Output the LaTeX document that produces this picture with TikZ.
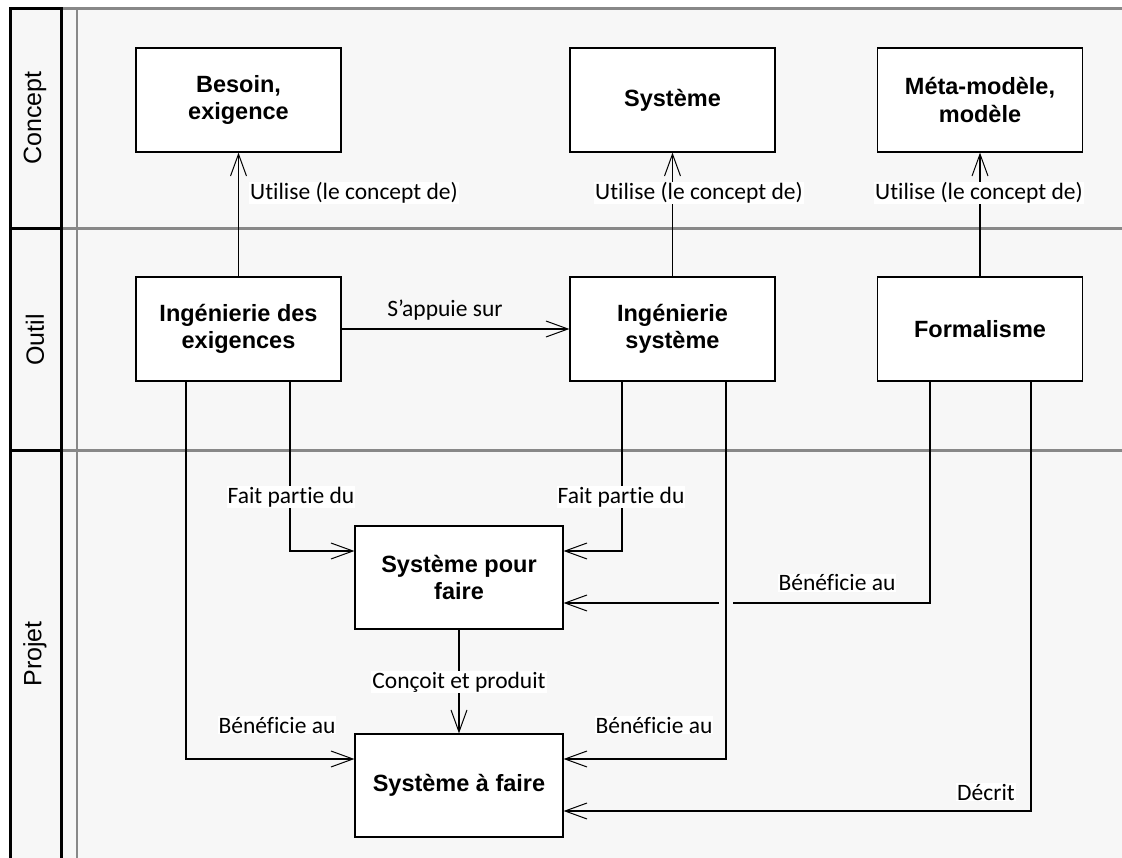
\documentclass[tikz,border=0pt]{standalone}
\usepackage{fontspec}
\setmainfont{Liberation Sans}
\newfontfamily\lblfont[Ligatures=NoCommon]{Carlito}
\usetikzlibrary{arrows.meta}
\definecolor{lanebg}{HTML}{F7F7F7}
\definecolor{laneline}{HTML}{888888}
\tikzset{
  box/.style={draw=black, line width=1.2pt, fill=white, minimum width=205pt, minimum height=104pt,
    inner sep=0pt, align=center, font=\fontsize{23.5}{27.5}\selectfont\bfseries},
  elabel/.style={fill=white, inner sep=1pt, font=\lblfont\fontsize{23.5}{27}\selectfont},
  lanelabel/.style={rotate=90, font=\fontsize{25}{28}\selectfont},
  conn/.style={line width=1.1pt, -{Straight Barb[length=22pt,width=16pt,line width=1pt]}},
}
\begin{document}
\begin{tikzpicture}[x=1pt,y=-1pt]
\useasboundingbox (0,0) rectangle (1122,858);
\fill[white] (0,0) rectangle (1122,858);
\fill[lanebg] (10,9) rectangle (1122,858);
% lanes
\draw[laneline, line width=3pt] (61,9) -- (1122,9);
\draw[laneline, line width=3pt] (61,229) -- (1122,229);
\draw[laneline, line width=3pt] (61,450) -- (1122,450);
\draw[laneline, line width=2.5pt] (77,9) -- (77,858);
\draw[black, line width=3pt] (10,870) -- (10,9) -- (61,9) -- (61,870);
\draw[black, line width=3pt] (10,229) -- (61,229);
\draw[black, line width=3pt] (10,450) -- (61,450);
\node[lanelabel] (lc) at (35,118) {Concept};
\node[lanelabel] (lo) at (35,340) {Outil};
\node[lanelabel] (lp) at (35,654) {Projet};
% nodes
\node[box] (bes) at (238.5,100) {Besoin,\\exigence};
\node[box] (sys) at (672.5,100) {Système};
\node[box] (meta) at (980,100) {Méta-modèle,\\modèle};
\node[box] (ingex) at (238.5,329) {Ingénierie des\\exigences};
\node[box] (ingsys) at (672.5,329) {Ingénierie\\système};
\node[box] (form) at (980,329) {Formalisme};
\node[box, minimum width=208pt, minimum height=103pt] (spf) at (459,577.5) {Système pour\\faire};
\node[box, minimum width=208pt, minimum height=103pt] (saf) at (459,785.5) {Système à faire};
% connectors
\draw[conn] (ingex.north) -- (bes.south);
\draw[conn] (ingsys.north) -- (sys.south);
\draw[conn] (form.north) -- (meta.south);
\draw[conn] (ingex.east) -- (ingsys.west);
\draw[conn] ([xshift=-52.5pt]ingex.south) |- ([yshift=26.5pt]saf.west);
\draw[conn] ([xshift=51.5pt]ingex.south) |- ([yshift=26.5pt]spf.west);
\draw[conn] ([xshift=-50.5pt]ingsys.south) |- ([yshift=26.5pt]spf.east);
\draw[conn] ([xshift=-50pt]form.south) |- ([yshift=-25.5pt]spf.east);
\fill[lanebg] (719,599) rectangle (733,607);
\draw[conn] ([xshift=53.5pt]ingsys.south) |- ([yshift=26.5pt]saf.east);
\draw[conn] ([xshift=51pt]form.south) |- ([yshift=-25.5pt]saf.east);
\draw[conn] (spf.south) -- (saf.north);
% labels
\node[elabel] (l1) at (354,193) {Utilise (le concept de)};
\node[elabel] (l2) at (699,193) {Utilise (le concept de)};
\node[elabel] (l3) at (979,193) {Utilise (le concept de)};
\node[elabel, fill=none] (l4) at (445,310) {S’appuie sur};
\node[elabel] (l5) at (291,497) {Fait partie du};
\node[elabel] (l6) at (621,497) {Fait partie du};
\node[elabel] (l7) at (837,583) {Bénéficie au};
\node[elabel] (l8) at (459,682) {Conçoit et produit};
\node[elabel] (l9) at (277,725) {Bénéficie au};
\node[elabel] (l10) at (654,725) {Bénéficie au};
\node[elabel] (l11) at (986,792) {Décrit};
\end{tikzpicture}
\end{document}
